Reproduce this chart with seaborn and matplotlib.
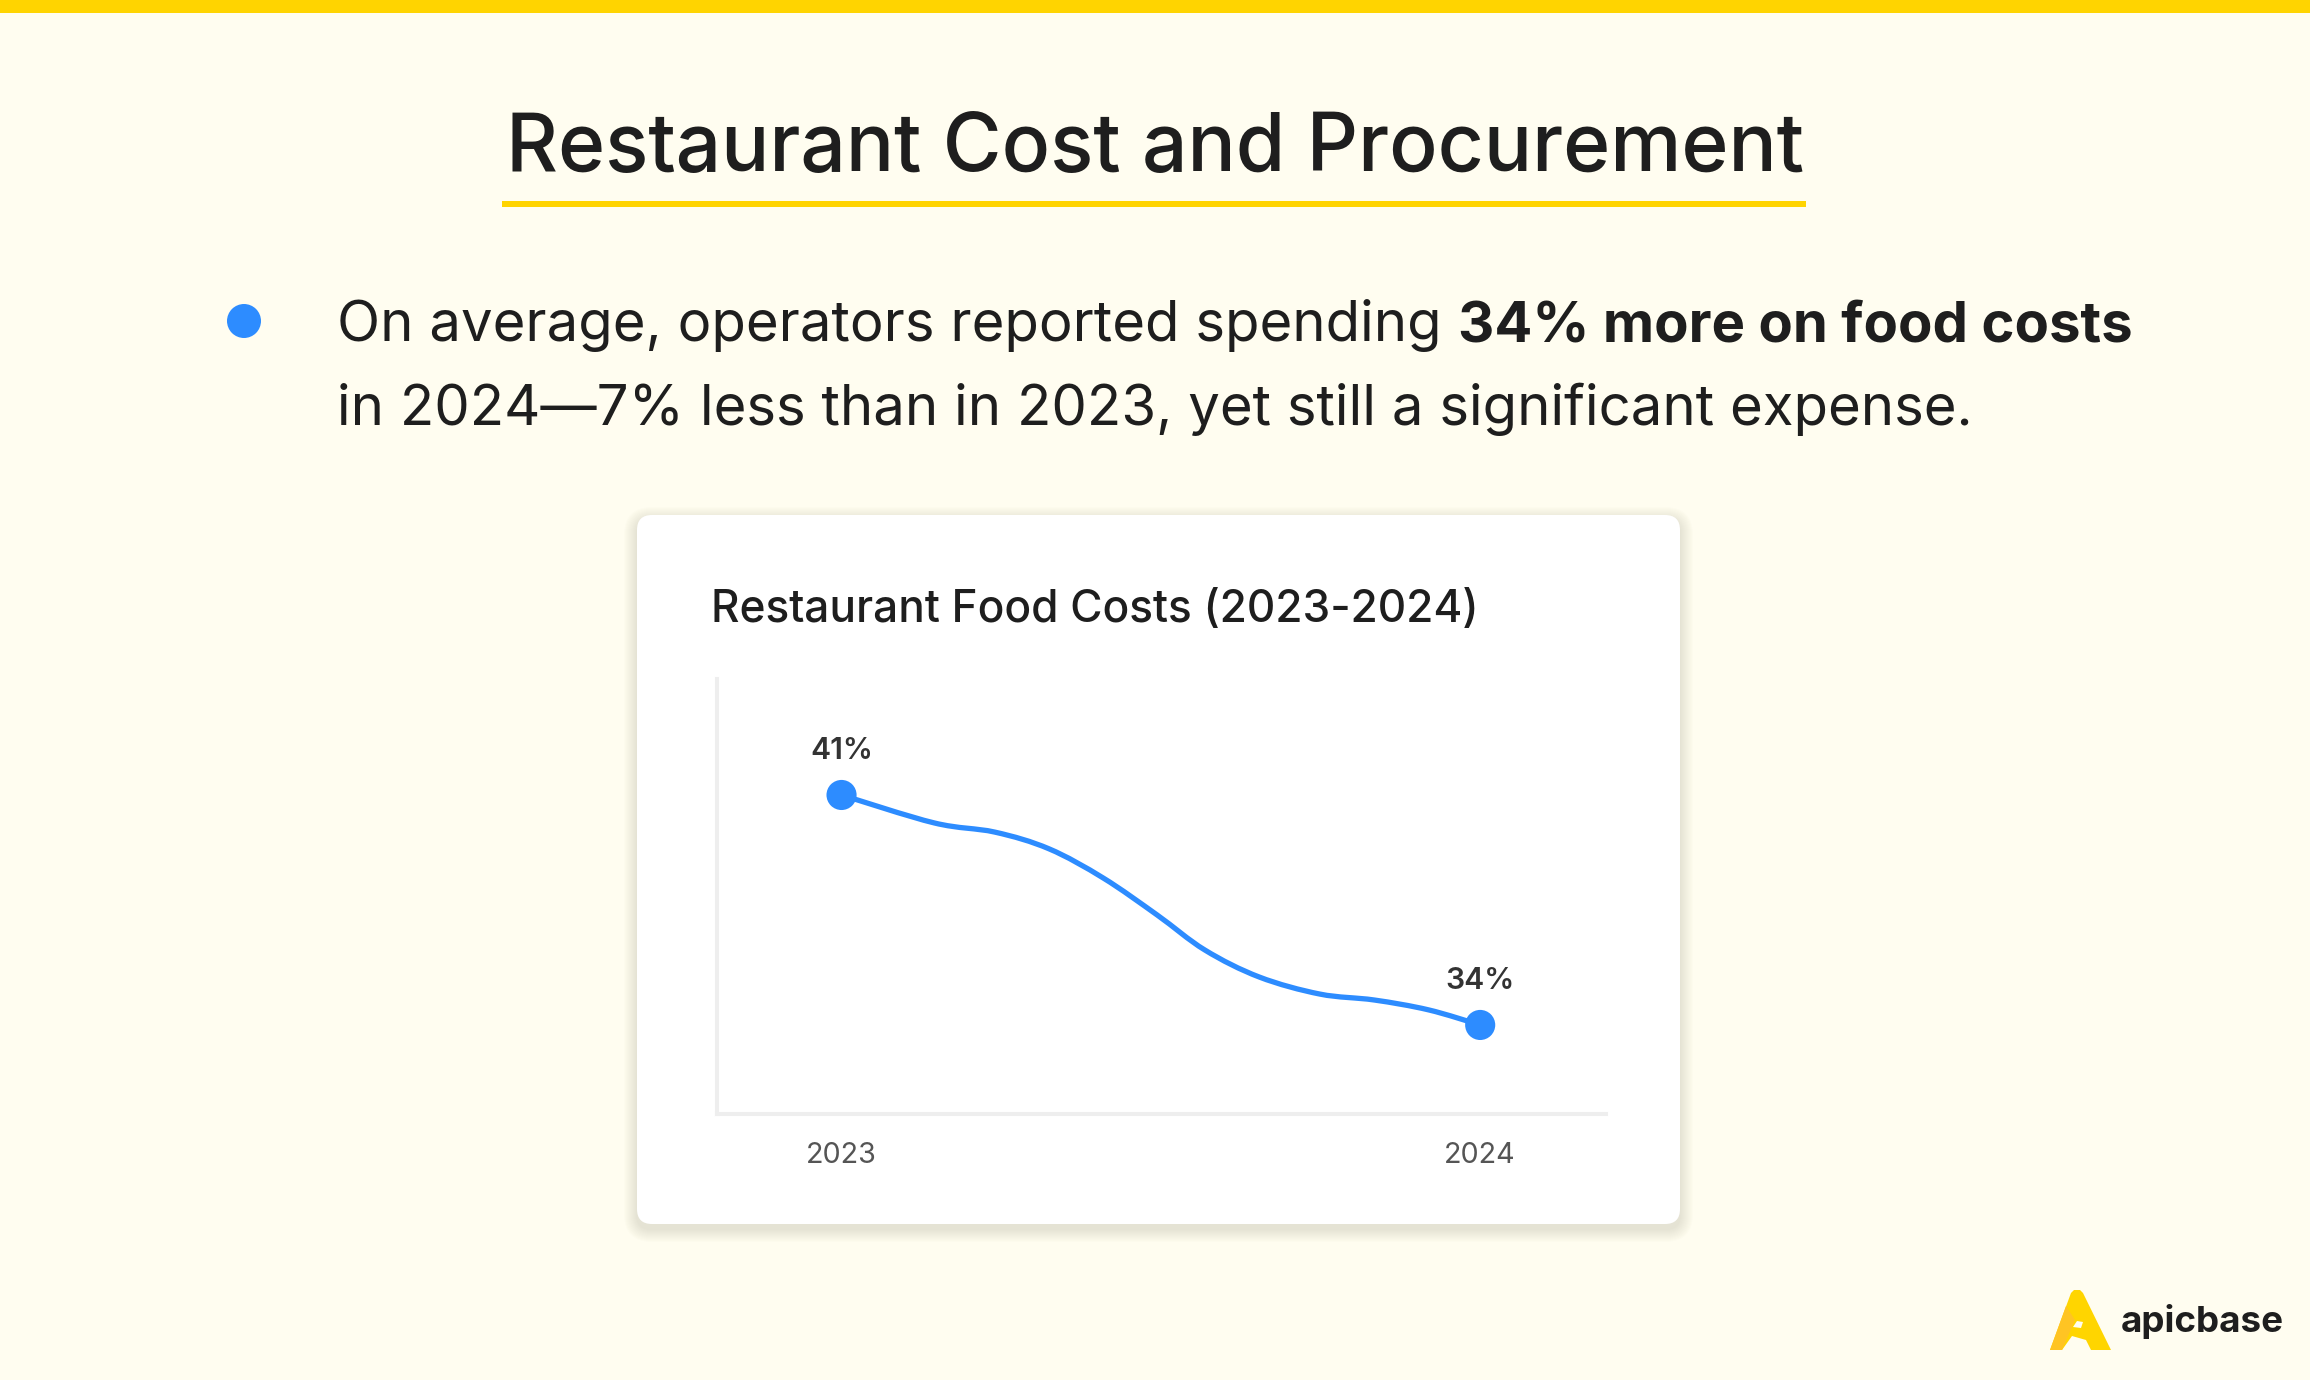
import numpy as np
import pandas as pd
import matplotlib
matplotlib.use("Agg")
import matplotlib.pyplot as plt
from matplotlib.patches import Rectangle, Circle, FancyBboxPatch, PathPatch, Polygon
from matplotlib.path import Path
import seaborn as sns

# ---------------- data ----------------
years = ["2023", "2024"]
food_cost_pct = [41, 34]
# smooth trend path as drawn in the reference
path_x = [0, 0.145, 0.24, 0.325, 0.41, 0.494, 0.569, 0.654, 0.749, 0.834, 0.919, 1.0]
path_y = [41, 40.15, 39.87, 39.36, 38.47, 37.35, 36.28, 35.46, 34.94, 34.76, 34.46, 34]

title = "Restaurant Cost and Procurement"
bullet_regular = "On average, operators reported spending "
bullet_bold = "34% more on food costs"
bullet_line2 = "in 2024\u20147% less than in 2023, yet still a significant expense."
chart_title = "Restaurant Food Costs (2023-2024)"
brand = "apicbase"

# ---------------- style ----------------
BG = "#FFFDF0"
YELLOW = "#FFD400"
BLUE = "#2D8CFF"
DARK = "#1E1E1E"

sns.set_theme(style="white")
plt.rcParams["font.family"] = ["Inter", "DejaVu Sans"]

W, H = 2310, 1380
fig = plt.figure(figsize=(W / 100, H / 100), dpi=100, facecolor=BG)

# background axes in pixel coordinates
bg = fig.add_axes([0, 0, 1, 1], zorder=0)
bg.set_xlim(0, W)
bg.set_ylim(H, 0)
bg.axis("off")
bg.set_facecolor(BG)

# top bar
bg.add_patch(Rectangle((0, 0), W, 13, color=YELLOW, lw=0))

# title + underline
bg.text(1155, 171, title, ha="center", va="baseline", fontsize=57.8,
        fontweight="medium", color=DARK)
bg.add_patch(Rectangle((502, 201), 1304, 6, color=YELLOW, lw=0))

# bullet
bg.add_patch(Circle((244, 321), 17, color=BLUE, lw=0))
t1 = bg.text(337, 341, bullet_regular, ha="left", va="baseline", fontsize=40.5,
             color=DARK)
bg.annotate(bullet_bold, xy=(1, 0), xycoords=t1, ha="left", va="bottom",
            fontsize=40.5, fontweight="bold", color=DARK)
bg.text(337, 425, bullet_line2, ha="left", va="baseline", fontsize=40.5,
        color=DARK)

# card shadow
cx, cy, cw, ch = 637, 515, 1043, 709
for k in range(1, 14):
    bg.add_patch(FancyBboxPatch((cx, cy + 5), cw, ch,
                                boxstyle=f"round,pad={k},rounding_size={15 + k}",
                                facecolor="#6b6040", edgecolor="none",
                                alpha=0.012, zorder=1))
bg.add_patch(FancyBboxPatch((cx, cy), cw, ch,
                            boxstyle="round,pad=0,rounding_size=15",
                            facecolor="white", edgecolor="none", zorder=2))

bg.text(711, 622, chart_title, ha="left", va="baseline", fontsize=31.8,
        fontweight="medium", color=DARK, zorder=3)

# logo
bg.add_patch(Polygon([(2050, 1350), (2071, 1293), (2074, 1290), (2080, 1290),
                      (2083, 1293), (2111, 1350), (2091, 1350), (2086, 1340),
                      (2072, 1336), (2062, 1350)],
                     closed=True, facecolor="#FFD500", edgecolor="none", zorder=2))
bg.add_patch(Polygon([(2050, 1350), (2066, 1306), (2075, 1320), (2062, 1350)],
                     closed=True, facecolor="#FFC423", edgecolor="none", zorder=3))
bg.add_patch(Polygon([(2073, 1327), (2077, 1321), (2083, 1322), (2081, 1328)],
                     closed=True, facecolor=BG, edgecolor="none", zorder=3))
bg.text(2121, 1332, brand, ha="left", va="baseline", fontsize=26.5,
        fontweight="bold", color=DARK)

# ---------------- chart ----------------
L, R, T, B = 717, 1606, 679, 1114
ax = fig.add_axes([L / W, 1 - B / H, (R - L) / W, (B - T) / H], zorder=3)
ax.set_facecolor("none")

# smooth curve (Catmull-Rom as cubic Bezier through the read path points)
px = np.array(path_x, dtype=float)
py = np.array(path_y, dtype=float)
pts = np.column_stack([px, py])
ext = np.vstack([pts[0], pts, pts[-1]])
verts = [tuple(pts[0])]
codes = [Path.MOVETO]
for i in range(len(pts) - 1):
    p0, p1, p2, p3 = ext[i], ext[i + 1], ext[i + 2], ext[i + 3]
    c1 = p1 + (p2 - p0) / 6.0
    c2 = p2 - (p3 - p1) / 6.0
    verts += [tuple(c1), tuple(c2), tuple(p2)]
    codes += [Path.CURVE4] * 3
ax.add_patch(PathPatch(Path(verts, codes), facecolor="none", edgecolor=BLUE,
                       lw=3.8, capstyle="round", zorder=2))

df = pd.DataFrame({"pos": [0, 1], "year": years, "value": food_cost_pct})
sns.scatterplot(data=df, x="pos", y="value", s=470, color=BLUE,
                edgecolor="none", ax=ax, zorder=3, legend=False)
for xp, v in zip(df["pos"], df["value"]):
    ax.annotate(f"{v}%", (xp, v), xytext=(0, 32), textcoords="offset points",
                ha="center", va="center", fontsize=21.6, fontweight="semibold",
                color="#333333")

ax.set_xlim(-0.195, 1.197)
ax.set_ylim(31.29, 44.53)
ax.set_xticks([0, 1])
ax.set_xticklabels(years)
ax.set_yticks([])
ax.set_xlabel("")
ax.set_ylabel("")
ax.tick_params(axis="x", length=0, pad=20, labelsize=20.7, labelcolor="#555555")
for s in ["top", "right"]:
    ax.spines[s].set_visible(False)
for s in ["left", "bottom"]:
    ax.spines[s].set_color("#EEEEEE")
    ax.spines[s].set_linewidth(2.9)

fig.savefig("out.png", dpi=100, facecolor=BG)
